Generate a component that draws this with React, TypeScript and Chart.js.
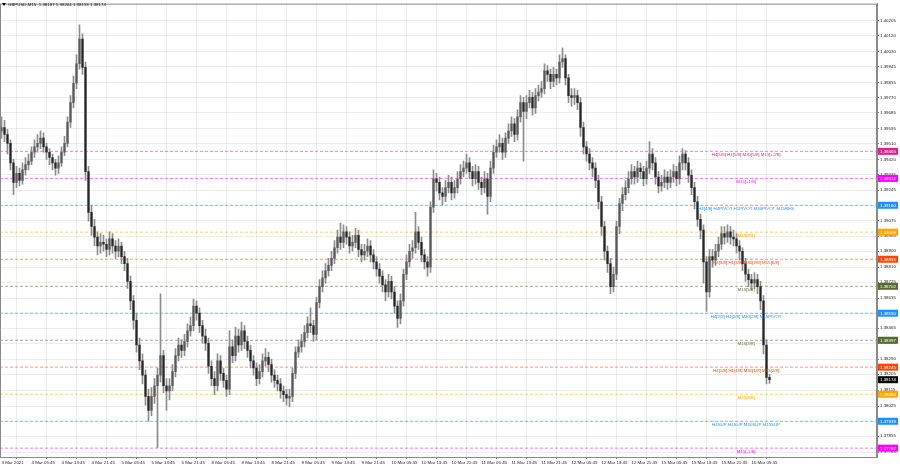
import React, { useEffect, useRef } from "react";
import { Chart, registerables } from "chart.js";
Chart.register(...registerables);

const symbolTitle = "GBPUSD,M15";
const lastOHLC = ["1.38187", "1.38204", "1.38153", "1.38174"];
const currentPrice = 1.38174;
const firstOpen = 1.3958;

const closes = [
  1.3960, 1.3956, 1.3951, 1.3940, 1.3929, 1.3934, 1.3930, 1.3936, 1.3939, 1.3941,
  1.3946, 1.3949, 1.3951, 1.3954, 1.3949, 1.3946, 1.3943, 1.3940, 1.3937, 1.3940,
  1.3946, 1.3951, 1.3963, 1.3974, 1.3985, 1.3996, 1.4010, 1.3994, 1.3935, 1.3912,
  1.3904, 1.3898, 1.3893, 1.3895, 1.3894, 1.3891, 1.3897, 1.3893, 1.3890, 1.3893,
  1.3887, 1.3883, 1.3873, 1.3862, 1.3851, 1.3837, 1.3828, 1.3820, 1.3808, 1.3800,
  1.3808, 1.3814, 1.3820, 1.3831, 1.3814, 1.3811, 1.3814, 1.3822, 1.3831, 1.3837,
  1.3834, 1.3839, 1.3845, 1.3848, 1.3859, 1.3855, 1.3848, 1.3842, 1.3838, 1.3825,
  1.3818, 1.3814, 1.3828, 1.3821, 1.3817, 1.3812, 1.3836, 1.3831, 1.3842, 1.3837,
  1.3845, 1.3839, 1.3834, 1.3828, 1.3824, 1.3818, 1.3822, 1.3828, 1.3830, 1.3826,
  1.3820, 1.3817, 1.3815, 1.3811, 1.3809, 1.3807, 1.3808, 1.3821, 1.3833, 1.3836,
  1.3839, 1.3844, 1.3849, 1.3848, 1.3843, 1.3861, 1.3870, 1.3875, 1.3879, 1.3882,
  1.3886, 1.3892, 1.3898, 1.3895, 1.3901, 1.3898, 1.3893, 1.3895, 1.3899, 1.3891,
  1.3888, 1.3890, 1.3893, 1.3888, 1.3884, 1.3880, 1.3876, 1.3871, 1.3867, 1.3873,
  1.3867, 1.3859, 1.3852, 1.3862, 1.3877, 1.3884, 1.3890, 1.3892, 1.3901, 1.3895,
  1.3888, 1.3884, 1.3881, 1.3915, 1.3931, 1.3929, 1.3923, 1.3921, 1.3926, 1.3929,
  1.3923, 1.3926, 1.3931, 1.3935, 1.3937, 1.3940, 1.3935, 1.3931, 1.3935, 1.3929,
  1.3926, 1.3931, 1.3921, 1.3937, 1.3946, 1.3949, 1.3951, 1.3946, 1.3954, 1.3958,
  1.3962, 1.3956, 1.3966, 1.3974, 1.3969, 1.3974, 1.3977, 1.3971, 1.3978, 1.3980,
  1.3982, 1.3992, 1.3990, 1.3986, 1.3990, 1.3988, 1.3997, 1.3999, 1.3988, 1.3978,
  1.3977, 1.3978, 1.3974, 1.3960, 1.3949, 1.3945, 1.3940, 1.3937, 1.3930, 1.3918,
  1.3904, 1.3890, 1.3883, 1.3870, 1.3877, 1.3904, 1.3917, 1.3922, 1.3926, 1.3931,
  1.3935, 1.3932, 1.3937, 1.3935, 1.3931, 1.3937, 1.3945, 1.3940, 1.3932, 1.3927,
  1.3929, 1.3932, 1.3929, 1.3932, 1.3935, 1.3931, 1.3940, 1.3945, 1.3940, 1.3933,
  1.3926, 1.3918, 1.3908, 1.3902, 1.3884, 1.3867, 1.3887, 1.3885, 1.3890, 1.3894,
  1.3900, 1.3898, 1.3901, 1.3898, 1.3897, 1.3893, 1.3890, 1.3883, 1.3877, 1.3874,
  1.3872, 1.3874, 1.3870, 1.3862, 1.3837, 1.38187, 1.38174,
];

const highs = [
  1.3966, 1.3964, 1.3959, 1.3953, 1.3942, 1.3938, 1.3937, 1.3940, 1.3943, 1.3945,
  1.3949, 1.3953, 1.3956, 1.3958, 1.3957, 1.3951, 1.3948, 1.3945, 1.3942, 1.3944,
  1.3949, 1.3955, 1.3966, 1.3978, 1.3989, 1.4001, 1.4018, 1.4013, 1.3997, 1.3938,
  1.3916, 1.3908, 1.3901, 1.3900, 1.3899, 1.3897, 1.3901, 1.3900, 1.3896, 1.3897,
  1.3895, 1.3890, 1.3886, 1.3876, 1.3865, 1.3855, 1.3841, 1.3832, 1.3823, 1.3812,
  1.3813, 1.3818, 1.3824, 1.3866, 1.3834, 1.3818, 1.3818, 1.3826, 1.3835, 1.3841,
  1.3840, 1.3843, 1.3849, 1.3853, 1.3863, 1.3862, 1.3858, 1.3851, 1.3846, 1.3841,
  1.3828, 1.3822, 1.3832, 1.3831, 1.3824, 1.3820, 1.3845, 1.3840, 1.3847, 1.3846,
  1.3850, 1.3848, 1.3842, 1.3837, 1.3831, 1.3827, 1.3826, 1.3832, 1.3835, 1.3833,
  1.3829, 1.3823, 1.3820, 1.3818, 1.3814, 1.3812, 1.3812, 1.3824, 1.3836, 1.3840,
  1.3843, 1.3848, 1.3853, 1.3858, 1.3851, 1.3864, 1.3874, 1.3879, 1.3883, 1.3886,
  1.3890, 1.3896, 1.3902, 1.3906, 1.3905, 1.3904, 1.3901, 1.3899, 1.3903, 1.3902,
  1.3894, 1.3894, 1.3897, 1.3896, 1.3891, 1.3887, 1.3883, 1.3879, 1.3874, 1.3877,
  1.3876, 1.3870, 1.3862, 1.3866, 1.3880, 1.3888, 1.3894, 1.3896, 1.3912, 1.3904,
  1.3898, 1.3891, 1.3887, 1.3918, 1.3936, 1.3934, 1.3932, 1.3926, 1.3930, 1.3933,
  1.3932, 1.3930, 1.3935, 1.3939, 1.3941, 1.3945, 1.3943, 1.3938, 1.3939, 1.3938,
  1.3932, 1.3935, 1.3934, 1.3941, 1.3950, 1.3953, 1.3956, 1.3954, 1.3957, 1.3962,
  1.3966, 1.3965, 1.3970, 1.3978, 1.3977, 1.3978, 1.3981, 1.3980, 1.3982, 1.3984,
  1.3986, 1.3996, 1.3995, 1.3993, 1.3994, 1.3993, 1.4001, 1.4005, 1.4001, 1.3990,
  1.3982, 1.3982, 1.3981, 1.3977, 1.3963, 1.3952, 1.3948, 1.3943, 1.3940, 1.3933,
  1.3921, 1.3907, 1.3893, 1.3886, 1.3881, 1.3907, 1.3920, 1.3926, 1.3930, 1.3935,
  1.3939, 1.3938, 1.3941, 1.3940, 1.3938, 1.3941, 1.3952, 1.3948, 1.3943, 1.3935,
  1.3933, 1.3936, 1.3935, 1.3936, 1.3939, 1.3938, 1.3944, 1.3948, 1.3947, 1.3943,
  1.3936, 1.3929, 1.3921, 1.3911, 1.3905, 1.3887, 1.3891, 1.3891, 1.3894, 1.3898,
  1.3904, 1.3904, 1.3905, 1.3904, 1.3902, 1.3900, 1.3896, 1.3892, 1.3886, 1.3880,
  1.3877, 1.3878, 1.3877, 1.3873, 1.3865, 1.3840, 1.38204,
];

const lows = [
  1.3954, 1.3952, 1.3945, 1.3936, 1.3922, 1.3926, 1.3927, 1.3928, 1.3933, 1.3936,
  1.3939, 1.3943, 1.3946, 1.3948, 1.3946, 1.3942, 1.3939, 1.3936, 1.3933, 1.3934,
  1.3938, 1.3944, 1.3949, 1.3960, 1.3971, 1.3982, 1.3993, 1.3990, 1.3930, 1.3907,
  1.3899, 1.3893, 1.3888, 1.3889, 1.3890, 1.3887, 1.3888, 1.3889, 1.3886, 1.3887,
  1.3883, 1.3879, 1.3869, 1.3857, 1.3846, 1.3833, 1.3823, 1.3815, 1.3803, 1.3794,
  1.3797, 1.3804, 1.3779, 1.3816, 1.3810, 1.3800, 1.3806, 1.3811, 1.3819, 1.3828,
  1.3830, 1.3831, 1.3836, 1.3842, 1.3845, 1.3851, 1.3844, 1.3838, 1.3834, 1.3821,
  1.3814, 1.3809, 1.3811, 1.3817, 1.3813, 1.3808, 1.3809, 1.3827, 1.3828, 1.3833,
  1.3834, 1.3835, 1.3830, 1.3824, 1.3820, 1.3814, 1.3815, 1.3819, 1.3825, 1.3822,
  1.3816, 1.3813, 1.3811, 1.3807, 1.3805, 1.3803, 1.3802, 1.3805, 1.3818, 1.3830,
  1.3833, 1.3836, 1.3841, 1.3844, 1.3839, 1.3840, 1.3858, 1.3867, 1.3872, 1.3876,
  1.3879, 1.3883, 1.3889, 1.3891, 1.3892, 1.3894, 1.3889, 1.3890, 1.3892, 1.3887,
  1.3884, 1.3885, 1.3887, 1.3884, 1.3880, 1.3876, 1.3872, 1.3867, 1.3862, 1.3864,
  1.3863, 1.3855, 1.3847, 1.3849, 1.3859, 1.3874, 1.3881, 1.3886, 1.3889, 1.3891,
  1.3884, 1.3880, 1.3876, 1.3878, 1.3912, 1.3924, 1.3919, 1.3916, 1.3918, 1.3923,
  1.3919, 1.3920, 1.3923, 1.3928, 1.3932, 1.3934, 1.3931, 1.3927, 1.3928, 1.3925,
  1.3922, 1.3923, 1.3911, 1.3918, 1.3934, 1.3943, 1.3946, 1.3942, 1.3943, 1.3951,
  1.3955, 1.3952, 1.3953, 1.3963, 1.3941, 1.3965, 1.3971, 1.3967, 1.3968, 1.3975,
  1.3977, 1.3979, 1.3986, 1.3982, 1.3983, 1.3984, 1.3985, 1.3994, 1.3984, 1.3974,
  1.3972, 1.3973, 1.3970, 1.3955, 1.3945, 1.3941, 1.3936, 1.3932, 1.3926, 1.3914,
  1.3899, 1.3885, 1.3878, 1.3866, 1.3867, 1.3874, 1.3900, 1.3913, 1.3919, 1.3923,
  1.3928, 1.3928, 1.3929, 1.3931, 1.3927, 1.3928, 1.3934, 1.3936, 1.3928, 1.3923,
  1.3924, 1.3926, 1.3925, 1.3926, 1.3929, 1.3927, 1.3928, 1.3936, 1.3936, 1.3929,
  1.3922, 1.3914, 1.3904, 1.3897, 1.3872, 1.3856, 1.3864, 1.3881, 1.3882, 1.3887,
  1.3891, 1.3894, 1.3895, 1.3894, 1.3893, 1.3889, 1.3885, 1.3879, 1.3873, 1.3870,
  1.3868, 1.3869, 1.3866, 1.3857, 1.3832, 1.3815, 1.38153,
];

const xTickBars = [0, 10, 20, 30, 40, 50, 60, 70, 80, 90, 100, 110, 120, 130, 140, 150, 160, 170, 180, 190, 200, 210, 220, 230, 240, 250];
const xTickLabels = [
  "3 Mar 2021", "4 Mar 05:45", "4 Mar 13:45", "4 Mar 21:45", "5 Mar 05:45", "5 Mar 13:45", "5 Mar 21:45",
  "8 Mar 05:45", "8 Mar 13:45", "8 Mar 21:45", "9 Mar 05:45", "9 Mar 13:45", "9 Mar 21:45",
  "10 Mar 05:45", "10 Mar 13:45", "10 Mar 21:45", "11 Mar 05:45", "11 Mar 13:45", "11 Mar 21:45",
  "12 Mar 05:45", "12 Mar 13:45", "12 Mar 21:45", "15 Mar 05:45", "15 Mar 13:45", "15 Mar 21:45", "16 Mar 05:45",
];
const yTickLabels = [
  "1.40205", "1.40120", "1.40030", "1.39945", "1.39855", "1.39770", "1.39685", "1.39595", "1.39510", "1.39420",
  "1.39335", "1.39245", "1.39160", "1.39075", "1.38985", "1.38900", "1.38810", "1.38725", "1.38635", "1.38550",
  "1.38465", "1.38380", "1.38290", "1.38205", "1.38115", "1.38025", "1.37940", "1.37855", "1.37765",
];

const levelPrices = [1.39465, 1.39312, 1.3916, 1.39008, 1.38855, 1.38702, 1.3855, 1.38397, 1.38245, 1.38092, 1.37939, 1.37787];
const levelNames = [
  "H4[5/8] H1[5/8] M30[5/8] M15[+2/8]",
  "M15[+1/8]",
  "H4[4/8] H4PIVOT H1PIVOT M30PIVOT M15RES",
  "M15[7/8]",
  "H4[3/8] H1[3/8] M30[3/8] M15[6/8]",
  "M15[5/8]",
  "H4[2/8] H1[2/8] M30[2/8] M15PIVOT",
  "M15[3/8]",
  "H4[1/8] H1[1/8] M30[1/8] M15[2/8]",
  "M15[1/8]",
  "H4SUP H1SUP M30SUP M15SUP",
  "M15[-1/8]",
];
const levelColors = [
  "#e0208c", "#ff00ff", "#1e90ff", "#ffa500", "#ff4500", "#556b2f",
  "#1e90ff", "#556b2f", "#ff4500", "#ffa500", "#1e90ff", "#ff00ff",
];

const X_MIN = -0.5;
const X_MAX = 291.833;
const Y_MAX = 1.403;
const Y_MIN = 1.37737;
const LABEL_BAR = 248.2;
const FONT = "'Liberation Sans', Arial, sans-serif";
const BULL = "#5a5a5a";
const BEAR = "#262626";
const WICK = "#8c8c8c";
const GRID = "rgba(0,0,0,0.07)";

function withAlpha(hex: string, a: number) {
  const n = parseInt(hex.slice(1), 16);
  return `rgba(${(n >> 16) & 255},${(n >> 8) & 255},${n & 255},${a})`;
}

export default function App() {
  const ref = useRef<HTMLCanvasElement>(null);
  useEffect(() => {
    const canvas = ref.current;
    if (!canvas) return;
    const opens = [firstOpen, ...closes.slice(0, -1)];
    const wicks = closes.map((_, i) => ({ x: i, y: [lows[i], highs[i]] }));
    const bodies = closes.map((c, i) => ({ x: i, y: [opens[i], c] }));
    const bodyColors = closes.map((c, i) => (c >= opens[i] ? BULL : BEAR));

    const levelSets: any[] = levelPrices.map((p, k) => ({
      type: "line",
      data: [{ x: X_MIN, y: p }, { x: X_MAX, y: p }],
      borderColor: withAlpha(levelColors[k], 0.55),
      borderWidth: 1,
      borderDash: [3, 2],
      pointRadius: 0,
      order: 10,
    }));

    const overlay = {
      id: "mtOverlay",
      beforeDraw(chart: any) {
        const { ctx } = chart;
        ctx.save();
        ctx.fillStyle = "#ffffff";
        ctx.fillRect(0, 0, chart.width, chart.height);
        ctx.restore();
      },
      afterDraw(chart: any) {
        const { ctx, chartArea } = chart;
        const xs = chart.scales.x;
        const ys = chart.scales.y;
        ctx.save();
        ctx.strokeStyle = "#8a8a8a";
        ctx.lineWidth = 1;
        ctx.strokeRect(chartArea.left + 0.5, chartArea.top + 0.5, chartArea.right - chartArea.left - 1, chartArea.bottom - chartArea.top);
        ctx.font = `4.4px ${FONT}`;
        ctx.textBaseline = "top";
        ctx.textAlign = "center";
        const lx = xs.getPixelForValue(LABEL_BAR);
        levelPrices.forEach((p, k) => {
          const y = ys.getPixelForValue(p);
          ctx.fillStyle = levelColors[k];
          ctx.fillText(levelNames[k], lx, y + 1.2);
        });
        const boxes = levelPrices.map((p, k) => ({ p, c: levelColors[k] }));
        boxes.push({ p: currentPrice, c: "#000000" });
        ctx.textAlign = "left";
        ctx.textBaseline = "middle";
        boxes.forEach((b) => {
          const y = ys.getPixelForValue(b.p);
          ctx.fillStyle = b.c;
          ctx.fillRect(chartArea.right + 1, y - 3.5, 20, 7);
          ctx.fillStyle = "#ffffff";
          ctx.fillText(b.p.toFixed(5), chartArea.right + 3, y + 0.3);
        });
        ctx.fillStyle = "#000";
        ctx.beginPath();
        ctx.moveTo(2, 3);
        ctx.lineTo(6, 3);
        ctx.lineTo(4, 6);
        ctx.closePath();
        ctx.fill();
        ctx.font = `4.4px ${FONT}`;
        ctx.fillStyle = "#111";
        ctx.fillText(`${symbolTitle}  ${lastOHLC.join(" ")}`, 8, 5);
        ctx.restore();
      },
    };

    const chart = new Chart(canvas, {
      type: "bar",
      data: {
        datasets: [
          ...levelSets,
          {
            type: "bar",
            data: wicks as any,
            backgroundColor: WICK,
            barThickness: 1,
            grouped: false,
            order: 2,
          },
          {
            type: "bar",
            data: bodies as any,
            backgroundColor: bodyColors,
            barThickness: 1.6,
            minBarLength: 1,
            grouped: false,
            order: 1,
          },
        ],
      },
      options: {
        animation: false,
        responsive: false,
        maintainAspectRatio: false,
        events: [],
        layout: { padding: 0 },
        plugins: { legend: { display: false }, tooltip: { enabled: false } },
        scales: {
          x: {
            type: "linear",
            min: X_MIN,
            max: X_MAX,
            offset: false,
            position: "bottom",
            afterBuildTicks: (s: any) => {
              s.ticks = xTickBars.map((v) => ({ value: v }));
            },
            afterFit: (s: any) => {
              s.height = 11;
            },
            ticks: {
              autoSkip: false,
              maxRotation: 0,
              minRotation: 0,
              align: "start",
              padding: 1,
              color: "#222",
              font: { family: FONT, size: 4.4 },
              callback: (_v: any, i: number) => xTickLabels[i],
            },
            grid: { color: GRID, tickLength: 2, tickColor: "#777" },
            border: { display: true, color: "#8a8a8a" },
          },
          y: {
            type: "linear",
            position: "right",
            min: Y_MIN,
            max: Y_MAX,
            afterBuildTicks: (s: any) => {
              s.ticks = yTickLabels.map((t) => ({ value: parseFloat(t) }));
            },
            afterFit: (s: any) => {
              s.width = 23;
            },
            ticks: {
              autoSkip: false,
              padding: 1,
              color: "#222",
              font: { family: FONT, size: 4.4 },
              callback: (_v: any, i: number) => yTickLabels[i],
            },
            grid: { color: GRID, tickLength: 2, tickColor: "#777" },
            border: { display: true, color: "#8a8a8a" },
          },
        },
      },
      plugins: [overlay],
    } as any);
    return () => chart.destroy();
  }, []);

  return (
    <div style={{ position: "fixed", left: 0, top: 0, width: 900, height: 468, background: "#fff" }}>
      <canvas ref={ref} width={900} height={468} style={{ display: "block" }} />
    </div>
  );
}
